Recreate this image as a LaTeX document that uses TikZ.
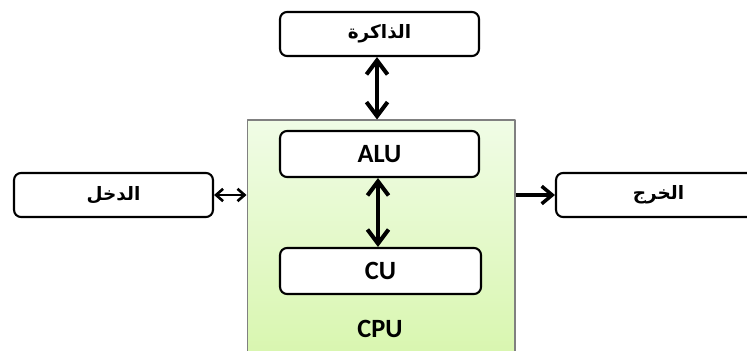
\documentclass[tikz,border=0pt]{standalone}
\usepackage{fontspec}
\setmainfont{Carlito}
\newfontfamily\arabicfont[Script=Arabic]{DejaVu Sans}
\TeXXeTstate=1
\usetikzlibrary{arrows.meta}
\definecolor{cpuhi}{HTML}{F0FCE6}
\definecolor{cpulo}{HTML}{D8F6AE}
\definecolor{cpuedge}{HTML}{808080}
\newcommand{\artext}[1]{{\arabicfont\bfseries\fontsize{10.5}{12}\selectfont\beginR #1\endR}}
\begin{document}
\begin{tikzpicture}[x=0.02cm, y=-0.02cm, line join=round,
  unit/.style={draw, rounded corners=4pt, line width=1.2pt, fill=white, minimum width=3.98cm, minimum height=0.88cm, inner sep=0pt, font=\bfseries\fontsize{15}{17}\selectfont},
  cpubox/.style={draw=cpuedge, line width=0.6pt, top color=cpuhi, bottom color=cpulo, minimum width=5.36cm, minimum height=4.8cm, inner sep=0pt},
  biglink/.style={{Straight Barb[length=8pt,width=12pt]}-{Straight Barb[length=8pt,width=12pt]}, line width=2.3pt},
  smalllink/.style={{Straight Barb[length=4pt,width=7pt]}-{Straight Barb[length=4pt,width=7pt]}, line width=1.5pt},
  outlink/.style={-{Straight Barb[length=6pt,width=10pt]}, line width=2pt}]
\useasboundingbox (0,0) rectangle (747,351);
\clip (0,0) rectangle (747,351);
\node[cpubox] (cpu) at (381,240) {};
\node[font=\bfseries\fontsize{15}{17}\selectfont] (cpulabel) at (380,329) {CPU};
\node[unit] (mem) at (379.5,34) {\artext{الذاكرة}};
\node[unit, minimum height=0.92cm] (alu) at (379.5,154) {ALU};
\node[unit, minimum height=0.92cm, minimum width=4.02cm] (cu) at (380.5,271) {CU};
\node[unit] (in) at (113.5,195) {\artext{الدخل}};
\node[unit, minimum width=4.1cm] (out) at (658.5,195) {\artext{الخرج}};
% connectors
\draw[biglink] (mem.south -| 377,0) -- (cpu.north -| 377,0);
\draw[biglink] (alu.south -| 378,0) -- (cu.north -| 378,0);
\draw[smalllink] (in.east) -- (cpu.west |- in.east);
\draw[outlink] (cpu.east |- out.west) -- (out.west);
\end{tikzpicture}
\end{document}
